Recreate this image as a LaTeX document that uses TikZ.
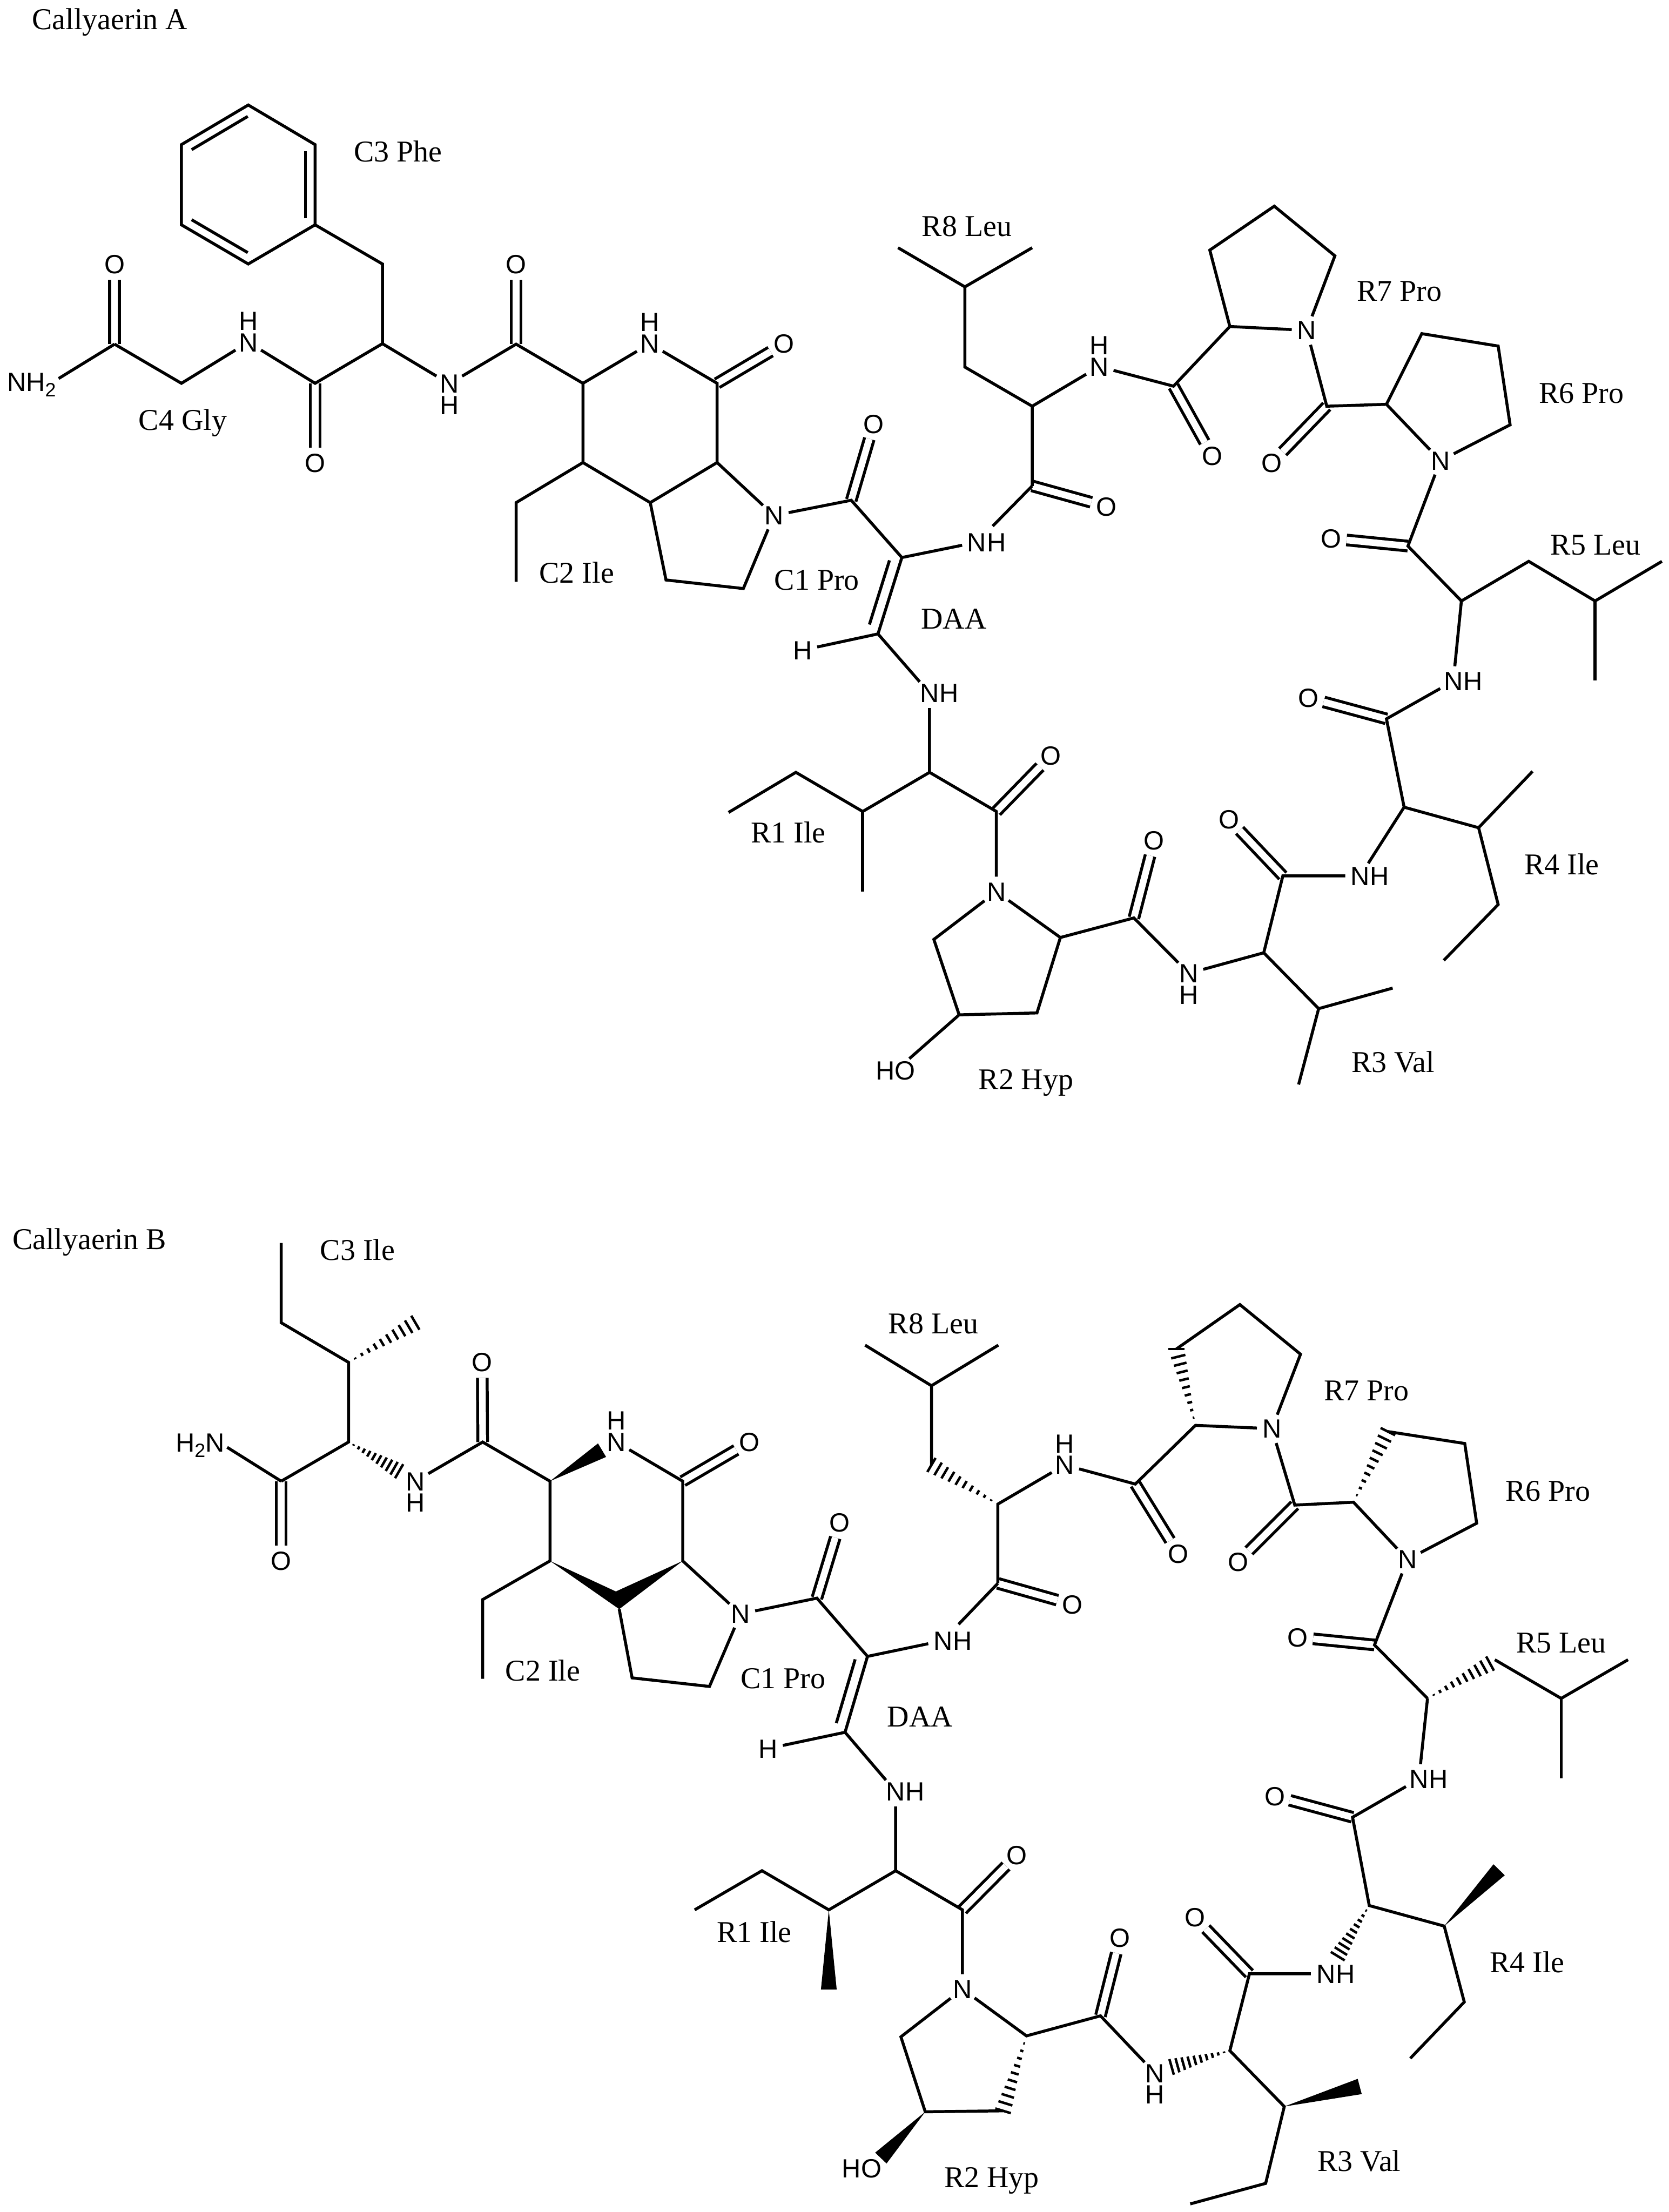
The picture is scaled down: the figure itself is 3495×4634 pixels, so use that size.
\documentclass[tikz,border=0pt]{standalone}
\usepackage{fontspec}
\setmainfont{Liberation Serif}
\newfontfamily\atomfont{Liberation Sans}
\usetikzlibrary{calc,positioning}
\tikzset{bond/.style={draw,line width=0.062cm,line join=miter}}
\tikzset{dbond/.style={bond,double,double distance=0.14cm}}
\tikzset{hashline/.style={draw,line width=0.052cm}}
\tikzset{atom/.style={circle,inner sep=0.02cm,font=\atomfont\fontsize{15.7}{18}\selectfont,text height=0.39cm,text depth=0cm}}
\tikzset{atoms/.style={atom,rectangle,inner sep=0.05cm}}
\tikzset{residue/.style={font=\fontsize{18}{20}\selectfont,inner sep=0pt,text height=0.42cm,text depth=0cm}}
\newcommand{\subtwo}{\raisebox{-0.11cm}{\fontsize{11.5}{12}\selectfont 2}}
\newcommand{\wedgebond}[2]{\fill (#1) -- ($(#2)!0.165cm!90:(#1)$) -- ($(#2)!0.165cm!-90:(#1)$) -- cycle;}
\newcommand{\hashbond}[2]{\foreach \hp in {0.1,0.2,...,1.0}{\draw[hashline] ($(#1)!\hp!(#2)!\hp*0.17cm!90:(#2)$) -- ($(#1)!\hp!(#2)!\hp*0.17cm!-90:(#2)$);}}
\newcommand{\innerbond}[3]{\draw[bond] ($(#1)!0.08!(#2)!#3!90:(#2)$) -- ($(#2)!0.08!(#1)!#3!-90:(#1)$);}

\begin{document}
\begin{tikzpicture}[x=0.01cm,y=-0.01cm]
    \useasboundingbox (0,0) rectangle (3495,4634);

    % Callyaerin A
    \node[residue] (tA) at (230,41) {Callyaerin A};
    \node[residue] (aC3) at (834,318) {C3 Phe};
    \node[residue] (aC4) at (383,880) {C4 Gly};
    \node[residue] (aC2) at (1208,1200) {C2 Ile};
    \node[residue] (aC1) at (1711,1215) {C1 Pro};
    \node[residue] (aDAA) at (1998,1297) {DAA};
    \node[residue] (aR8) at (2025,474) {R8 Leu};
    \node[residue] (aR7) at (2931,610) {R7 Pro};
    \node[residue] (aR6) at (3312,823) {R6 Pro};
    \node[residue] (aR5) at (3342,1141) {R5 Leu};
    \node[residue] (aR4) at (3271,1811) {R4 Ile};
    \node[residue] (aR3) at (2918,2225) {R3 Val};
    \node[residue] (aR2) at (2149,2261) {R2 Hyp};
    \node[residue] (aR1) at (1651,1745) {R1 Ile};

    \coordinate (aP1) at (520,220);
    \coordinate (aP2) at (380,303);
    \coordinate (aP3) at (380,471);
    \coordinate (aP4) at (520,553);
    \coordinate (aP5) at (660,471);
    \coordinate (aP6) at (660,303);
    \coordinate (aFb) at (801,553);
    \coordinate (aFa) at (801,720);
    \coordinate (aFc) at (660,803);
    \coordinate (aGa) at (380,803);
    \coordinate (aGc) at (240,721);
    \coordinate (aKc) at (1081,721);
    \coordinate (aKa) at (1221,803);
    \coordinate (aKb) at (1221,969);
    \coordinate (aKe) at (1081,1053);
    \coordinate (aKm) at (1081,1219);
    \coordinate (aRc) at (1502,803);
    \coordinate (aRa) at (1502,969);
    \coordinate (aRj) at (1362,1053);
    \coordinate (aR3c) at (1395,1215);
    \coordinate (aR4c) at (1557,1233);
    \coordinate (aCo) at (1783,1048);
    \coordinate (aD1) at (1889,1168);
    \coordinate (aD2) at (1839,1328);
    \coordinate (aL8c) at (2162,1018);
    \coordinate (aL8a) at (2162,851);
    \coordinate (aL8b) at (2021,769);
    \coordinate (aL8g) at (2021,601);
    \coordinate (aL8m) at (1881,519);
    \coordinate (aL8n) at (2162,519);
    \coordinate (aP7c) at (2458,809);
    \coordinate (aP7a) at (2576,684);
    \coordinate (aP7b) at (2534,524);
    \coordinate (aP7g) at (2669,432);
    \coordinate (aP7d) at (2796,536);
    \coordinate (aP6c) at (2779,851);
    \coordinate (aP6a) at (2904,847);
    \coordinate (aP6b) at (2978,699);
    \coordinate (aP6g) at (3138,725);
    \coordinate (aP6d) at (3163,890);
    \coordinate (aL5c) at (2949,1144);
    \coordinate (aL5a) at (3061,1259);
    \coordinate (aL5b) at (3202,1176);
    \coordinate (aL5g) at (3341,1259);
    \coordinate (aL5m) at (3481,1176);
    \coordinate (aL5n) at (3341,1425);
    \coordinate (aI4c) at (2904,1506);
    \coordinate (aI4a) at (2941,1691);
    \coordinate (aI4b) at (3097,1734);
    \coordinate (aI4m) at (3210,1616);
    \coordinate (aI4g) at (3138,1895);
    \coordinate (aI4d) at (3024,2012);
    \coordinate (aV3c) at (2687,1835);
    \coordinate (aV3a) at (2647,1996);
    \coordinate (aV3b) at (2762,2113);
    \coordinate (aV3m) at (2917,2070);
    \coordinate (aV3n) at (2720,2272);
    \coordinate (aH2c) at (2375,1923);
    \coordinate (aH2a) at (2221,1964);
    \coordinate (aH2b) at (2172,2122);
    \coordinate (aH2g) at (2009,2126);
    \coordinate (aH2d) at (1956,1968);
    \coordinate (aI1c) at (2087,1700);
    \coordinate (aI1a) at (1947,1618);
    \coordinate (aI1b) at (1807,1700);
    \coordinate (aI1g) at (1667,1618);
    \coordinate (aI1d) at (1526,1702);
    \coordinate (aI1m) at (1807,1868);

    \node[atoms] (aNt) at (66,800) {NH\subtwo};
    \node[atom] (aO1) at (240,554) {O};
    \node[atom] (aO2) at (660,970) {O};
    \node[atom] (aO3) at (1081,554) {O};
    \node[atom] (aO4) at (1642,720) {O};
    \node[atom] (aO5) at (1830,888) {O};
    \node[atom] (aO6) at (2317,1061) {O};
    \node[atom] (aO7) at (2539,955) {O};
    \node[atom] (aO8) at (2664,970) {O};
    \node[atom] (aO9) at (2788,1128) {O};
    \node[atom] (aO10) at (2741,1462) {O};
    \node[atom] (aO11) at (2574,1716) {O};
    \node[atom] (aO12) at (2417,1761) {O};
    \node[atom] (aO13) at (2201,1583) {O};
    \node[atom] (aNg) at (520,717) {N};
    \node[atom,above of=aNg,node distance=0.45cm] (aHg) {H};
    \node[atom] (aNf) at (941,804) {N};
    \node[atom,below of=aNf,node distance=0.45cm] (aHf) {H};
    \node[atom] (aNr) at (1361,720) {N};
    \node[atom,above of=aNr,node distance=0.45cm] (aHr) {H};
    \node[atom] (aNc) at (1621,1080) {N};
    \node[atom] (aNd) at (2046,1136) {N};
    \node[atom,right of=aNd,node distance=0.41cm] (aHd2) {H};
    \node[atom] (aNl) at (2302,768) {N};
    \node[atom,above of=aNl,node distance=0.45cm] (aHl) {H};
    \node[atom] (aN7) at (2737,692) {N};
    \node[atom] (aN6) at (3017,965) {N};
    \node[atom] (aNe) at (3044,1427) {N};
    \node[atom,right of=aNe,node distance=0.41cm] (aHe) {H};
    \node[atom] (aNi) at (2849,1835) {N};
    \node[atom,right of=aNi,node distance=0.41cm] (aHi) {H};
    \node[atom] (aNv) at (2490,2039) {N};
    \node[atom,below of=aNv,node distance=0.45cm] (aHv) {H};
    \node[atom] (aNh) at (2087,1868) {N};
    \node[atoms] (aHO) at (1876,2243) {HO};
    \node[atom] (aNu) at (1947,1452) {N};
    \node[atom,right of=aNu,node distance=0.41cm] (aHu) {H};
    \node[atom] (aHd) at (1681,1362) {H};

    \draw[dbond] (aGc) -- (aO1);
    \draw[dbond] (aFc) -- (aO2);
    \draw[dbond] (aKc) -- (aO3);
    \draw[dbond] (aRc) -- (aO4);
    \draw[dbond] (aCo) -- (aO5);
    \draw[dbond] (aL8c) -- (aO6);
    \draw[dbond] (aP7c) -- (aO7);
    \draw[dbond] (aP6c) -- (aO8);
    \draw[dbond] (aL5c) -- (aO9);
    \draw[dbond] (aI4c) -- (aO10);
    \draw[dbond] (aV3c) -- (aO11);
    \draw[dbond] (aH2c) -- (aO12);
    \draw[dbond] (aI1c) -- (aO13);

    \draw[bond] (aP1) -- (aP2) -- (aP3) -- (aP4) -- (aP5) -- (aP6) -- cycle;
    \innerbond{aP1}{aP2}{0.2cm}
    \innerbond{aP3}{aP4}{0.2cm}
    \innerbond{aP5}{aP6}{0.2cm}
    \draw[bond] (aP5) -- (aFb) -- (aFa) -- (aFc) -- (aNg) -- (aGa) -- (aGc);
    \draw[bond] (aGc) -- ([yshift=0.07cm]aNt.east);
    \draw[bond] (aFa) -- (aNf) -- (aKc) -- (aKa) -- (aNr) -- (aRc) -- (aRa) -- (aRj) -- (aKb) -- (aKa);
    \draw[bond] (aKb) -- (aKe) -- (aKm);
    \draw[bond] (aRa) -- (aNc) -- (aR4c) -- (aR3c) -- (aRj);
    \draw[bond] (aNc) -- (aCo) -- (aD1) -- (aNd);
    \draw[bond,shorten >=0.16cm] (aL8c) -- (aNd);
    \draw[bond] (aL8c) -- (aL8a) -- (aNl) -- (aP7c) -- (aP7a) -- (aN7) -- (aP6c) -- (aP6a) -- (aN6) -- (aL5c) -- (aL5a) -- (aNe) -- (aI4c) -- (aI4a) -- (aNi) -- (aV3c) -- (aV3a) -- (aNv) -- (aH2c) -- (aH2a) -- (aNh) -- (aI1c) -- (aI1a) -- (aNu) -- (aD2) -- (aD1);
    \innerbond{aD2}{aD1}{0.23cm}
    \draw[bond] (aD2) -- (aHd);
    \draw[bond] (aL8a) -- (aL8b) -- (aL8g) -- (aL8m);
    \draw[bond] (aL8g) -- (aL8n);
    \draw[bond] (aP7a) -- (aP7b) -- (aP7g) -- (aP7d) -- (aN7);
    \draw[bond] (aP6a) -- (aP6b) -- (aP6g) -- (aP6d) -- (aN6);
    \draw[bond] (aL5a) -- (aL5b) -- (aL5g) -- (aL5m);
    \draw[bond] (aL5g) -- (aL5n);
    \draw[bond] (aI4m) -- (aI4b) -- (aI4a);
    \draw[bond] (aI4b) -- (aI4g) -- (aI4d);
    \draw[bond] (aV3a) -- (aV3b) -- (aV3m);
    \draw[bond] (aV3b) -- (aV3n);
    \draw[bond] (aNh) -- (aH2d) -- (aH2g) -- (aH2b) -- (aH2a);
    \draw[bond] (aH2g) -- (aHO);
    \draw[bond] (aI1a) -- (aI1b) -- (aI1g) -- (aI1d);
    \draw[bond] (aI1b) -- (aI1m);

    % Callyaerin B
    \node[residue] (tB) at (187,2596) {Callyaerin B};
    \node[residue] (bC3) at (749,2619) {C3 Ile};
    \node[residue] (bC2) at (1137,3500) {C2 Ile};
    \node[residue] (bC1) at (1640,3516) {C1 Pro};
    \node[residue] (bDAA) at (1927,3596) {DAA};
    \node[residue] (bR8) at (1955,2773) {R8 Leu};
    \node[residue] (bR7) at (2862,2913) {R7 Pro};
    \node[residue] (bR6) at (3242,3124) {R6 Pro};
    \node[residue] (bR5) at (3270,3441) {R5 Leu};
    \node[residue] (bR4) at (3199,4111) {R4 Ile};
    \node[residue] (bR3) at (2847,4527) {R3 Val};
    \node[residue] (bR2) at (2077,4561) {R2 Hyp};
    \node[residue] (bR1) at (1580,4048) {R1 Ile};

    \coordinate (bIt) at (589,2604);
    \coordinate (bIe) at (589,2771);
    \coordinate (bIg) at (730,2854);
    \coordinate (bIm) at (870,2771);
    \coordinate (bIa) at (730,3021);
    \coordinate (bIc) at (589,3103);
    \coordinate (bIh) at (836,3082);
    \coordinate (bJc) at (1011,3021);
    \coordinate (bKa) at (1152,3103);
    \coordinate (bKw) at (1261,3038);
    \coordinate (bKb) at (1152,3270);
    \coordinate (bKe) at (1011,3351);
    \coordinate (bKm) at (1011,3517);
    \coordinate (bRc) at (1430,3103);
    \coordinate (bRa) at (1430,3270);
    \coordinate (bRj) at (1297,3371);
    \coordinate (bRw) at (1290,3334);
    \coordinate (bR3c) at (1324,3515);
    \coordinate (bR4c) at (1486,3533);
    \coordinate (bCo) at (1711,3348);
    \coordinate (bD1) at (1817,3470);
    \coordinate (bD2) at (1770,3629);
    \coordinate (bL8c) at (2090,3317);
    \coordinate (bL8a) at (2090,3151);
    \coordinate (bL8b) at (1951,3069);
    \coordinate (bL8g) at (1951,2903);
    \coordinate (bL8m) at (1812,2818);
    \coordinate (bL8n) at (2091,2818);
    \coordinate (bP7c) at (2378,3109);
    \coordinate (bP7a) at (2504,2986);
    \coordinate (bP7b) at (2464,2826);
    \coordinate (bP7g) at (2597,2733);
    \coordinate (bP7d) at (2724,2837);
    \coordinate (bP6c) at (2712,3153);
    \coordinate (bP6a) at (2835,3147);
    \coordinate (bP6b) at (2907,2999);
    \coordinate (bP6g) at (3068,3024);
    \coordinate (bP6d) at (3093,3191);
    \coordinate (bL5c) at (2879,3446);
    \coordinate (bL5a) at (2990,3558);
    \coordinate (bL5b) at (3131,3477);
    \coordinate (bL5h) at (3121,3485);
    \coordinate (bL5g) at (3270,3558);
    \coordinate (bL5m) at (3410,3477);
    \coordinate (bL5n) at (3270,3725);
    \coordinate (bI4c) at (2833,3807);
    \coordinate (bI4a) at (2868,3992);
    \coordinate (bI4h) at (2802,4098);
    \coordinate (bI4b) at (3025,4035);
    \coordinate (bI4m) at (3140,3917);
    \coordinate (bI4g) at (3067,4194);
    \coordinate (bI4d) at (2954,4312);
    \coordinate (bV3c) at (2617,4135);
    \coordinate (bV3a) at (2576,4296);
    \coordinate (bV3h) at (2454,4330);
    \coordinate (bV3b) at (2690,4413);
    \coordinate (bV3m) at (2848,4371);
    \coordinate (bV3e) at (2651,4574);
    \coordinate (bV3f) at (2493,4617);
    \coordinate (bH2c) at (2305,4223);
    \coordinate (bH2a) at (2150,4265);
    \coordinate (bH2b) at (2101,4422);
    \coordinate (bH2g) at (1938,4424);
    \coordinate (bH2d) at (1887,4267);
    \coordinate (bH2w) at (1845,4521);
    \coordinate (bI1c) at (2016,4001);
    \coordinate (bI1a) at (1876,3919);
    \coordinate (bI1b) at (1736,4001);
    \coordinate (bI1g) at (1596,3919);
    \coordinate (bI1d) at (1455,4001);
    \coordinate (bI1m) at (1736,4168);

    \node[atoms] (bNt) at (419,3022) {H\subtwo N};
    \node[atom] (bO1) at (589,3270) {O};
    \node[atom] (bO2) at (1010,2854) {O};
    \node[atom] (bO3) at (1570,3021) {O};
    \node[atom] (bO4) at (1759,3190) {O};
    \node[atom] (bO5) at (2246,3361) {O};
    \node[atom] (bO6) at (2468,3255) {O};
    \node[atom] (bO7) at (2593,3272) {O};
    \node[atom] (bO8) at (2718,3430) {O};
    \node[atom] (bO9) at (2670,3763) {O};
    \node[atom] (bO10) at (2503,4017) {O};
    \node[atom] (bO11) at (2346,4060) {O};
    \node[atom] (bO12) at (2130,3886) {O};
    \node[atom] (bNa) at (870,3103) {N};
    \node[atom,below of=bNa,node distance=0.45cm] (bHa) {H};
    \node[atom] (bNr) at (1291,3021) {N};
    \node[atom,above of=bNr,node distance=0.45cm] (bHr) {H};
    \node[atom] (bNc) at (1551,3381) {N};
    \node[atom] (bNd) at (1975,3437) {N};
    \node[atom,right of=bNd,node distance=0.41cm] (bHd2) {H};
    \node[atom] (bNl) at (2230,3069) {N};
    \node[atom,above of=bNl,node distance=0.45cm] (bHl) {H};
    \node[atom] (bN7) at (2664,2993) {N};
    \node[atom] (bN6) at (2948,3267) {N};
    \node[atom] (bNe) at (2972,3727) {N};
    \node[atom,right of=bNe,node distance=0.41cm] (bHe) {H};
    \node[atom] (bNi) at (2777,4135) {N};
    \node[atom,right of=bNi,node distance=0.41cm] (bHi) {H};
    \node[atom] (bNv) at (2419,4343) {N};
    \node[atom,below of=bNv,node distance=0.45cm] (bHv) {H};
    \node[atom] (bNh) at (2016,4167) {N};
    \node[atoms] (bHO) at (1805,4543) {HO};
    \node[atom] (bNu) at (1876,3753) {N};
    \node[atom,right of=bNu,node distance=0.41cm] (bHu) {H};
    \node[atom] (bHd) at (1609,3663) {H};

    \draw[dbond] (bIc) -- (bO1);
    \draw[dbond] (bJc) -- (bO2);
    \draw[dbond] (bRc) -- (bO3);
    \draw[dbond] (bCo) -- (bO4);
    \draw[dbond] (bL8c) -- (bO5);
    \draw[dbond] (bP7c) -- (bO6);
    \draw[dbond] (bP6c) -- (bO7);
    \draw[dbond] (bL5c) -- (bO8);
    \draw[dbond] (bI4c) -- (bO9);
    \draw[dbond] (bV3c) -- (bO10);
    \draw[dbond] (bH2c) -- (bO11);
    \draw[dbond] (bI1c) -- (bO12);

    \draw[bond] (bIt) -- (bIe) -- (bIg) -- (bIa) -- (bIc);
    \draw[bond] (bIc) -- ([yshift=-0.1cm]bNt.east);
    \hashbond{bIg}{bIm}
    \hashbond{bIa}{bIh}
    \draw[bond] (bNa) -- (bJc) -- (bKa) -- (bKb) -- (bKe) -- (bKm);
    \wedgebond{bKa}{bKw}
    \draw[bond] (bNr) -- (bRc) -- (bRa) -- (bNc) -- (bR4c) -- (bR3c) -- (bRj);
    \fill (bKb) -- (bRw) -- (bRa) -- (bRj) -- cycle;
    \draw[bond] (bNc) -- (bCo) -- (bD1) -- (bNd);
    \draw[bond,shorten >=0.16cm] (bL8c) -- (bNd);
    \draw[bond] (bL8c) -- (bL8a) -- (bNl) -- (bP7c) -- (bP7a) -- (bN7) -- (bP6c) -- (bP6a) -- (bN6) -- (bL5c) -- (bL5a);
    \draw[bond] (bL5a) -- (bNe) -- (bI4c) -- (bI4a) -- (bI4b) -- (bI4g) -- (bI4d);
    \draw[bond] (bNi) -- (bV3c) -- (bV3a) -- (bV3b) -- (bV3e) -- (bV3f);
    \draw[bond] (bNv) -- (bH2c) -- (bH2a) -- (bNh) -- (bI1c) -- (bI1a) -- (bNu) -- (bD2) -- (bD1);
    \innerbond{bD2}{bD1}{0.23cm}
    \draw[bond] (bD2) -- (bHd);
    \hashbond{bL8a}{bL8b}
    \draw[bond] (bL8b) -- (bL8g) -- (bL8m);
    \draw[bond] (bL8g) -- (bL8n);
    \hashbond{bP7a}{bP7b}
    \draw[bond] (bP7b) -- (bP7g) -- (bP7d) -- (bN7);
    \hashbond{bP6a}{bP6b}
    \draw[bond] (bP6b) -- (bP6g) -- (bP6d) -- (bN6);
    \hashbond{bL5a}{bL5h}
    \draw[bond] (bL5b) -- (bL5g) -- (bL5m);
    \draw[bond] (bL5g) -- (bL5n);
    \wedgebond{bI4b}{bI4m}
    \hashbond{bI4a}{bI4h}
    \hashbond{bV3a}{bV3h}
    \wedgebond{bV3b}{bV3m}
    \hashbond{bH2a}{bH2b}
    \draw[bond] (bH2b) -- (bH2g) -- (bH2d) -- (bNh);
    \wedgebond{bH2g}{bH2w}
    \draw[bond] (bI1a) -- (bI1b) -- (bI1g) -- (bI1d);
    \wedgebond{bI1b}{bI1m}
\end{tikzpicture}
\end{document}
